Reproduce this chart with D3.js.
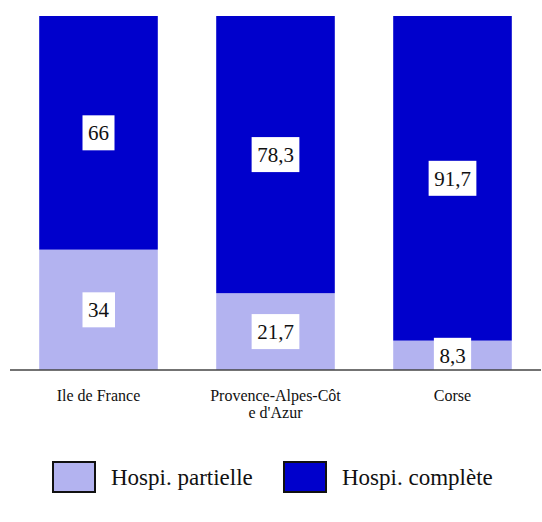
<!DOCTYPE html>
<html>
<head>
<meta charset="utf-8">
<script src="https://cdn.jsdelivr.net/npm/d3@7"></script>
<style>
  body { margin: 0; background: #fff; }
</style>
</head>
<body>
<svg id="chart" width="542" height="522"></svg>
<script>
var regions = ["Ile de France", "Provence-Alpes-Côte d'Azur", "Corse"];
var regionLines = [["Ile de France"], ["Provence-Alpes-Côt", "e d'Azur"], ["Corse"]];
var partielle = [34, 21.7, 8.3];
var complete = [66, 78.3, 91.7];
var seriesNames = ["Hospi. partielle", "Hospi. complète"];
var seriesColors = ["#b3b3f0", "#0000cc"];

var serif = "'Liberation Serif', 'Times New Roman', Times, serif";
var svg = d3.select("#chart");
var plotTop = 16, plotBase = 370;

var x = d3.scaleBand()
    .domain(regions)
    .range([10, 541])
    .paddingInner(0.33)
    .paddingOuter(0.165);

var y = d3.scaleLinear()
    .domain([0, 100])
    .range([plotBase, plotTop]);

var fmt = function(v) { return String(v).replace(".", ","); };

var rows = regions.map(function(r, i) {
  return { region: r, partielle: partielle[i], complete: complete[i] };
});
var stack = d3.stack().keys(["partielle", "complete"])(rows);

var g = svg.append("g");

stack.forEach(function(layer, li) {
  g.selectAll(".bar" + li)
      .data(layer)
    .enter().append("rect")
      .attr("x", function(d) { return x(d.data.region); })
      .attr("y", function(d) { return y(d[1]); })
      .attr("width", x.bandwidth())
      .attr("height", function(d) { return y(d[0]) - y(d[1]); })
      .attr("fill", seriesColors[li]);
});

// value labels in white boxes
stack.forEach(function(layer) {
  layer.forEach(function(d) {
    var cx = x(d.data.region) + x.bandwidth() / 2;
    var cy = (y(d[0]) + y(d[1])) / 2;
    var lab = g.append("g");
    var t = lab.append("text")
        .attr("x", cx)
        .attr("y", cy)
        .attr("dy", "0.35em")
        .attr("text-anchor", "middle")
        .attr("font-family", serif)
        .attr("font-size", 21)
        .attr("fill", "#111")
        .text(fmt(d.data[layer.key]));
    var bb = t.node().getBBox();
    lab.insert("rect", "text")
        .attr("x", bb.x - 5.5)
        .attr("y", cy - 17.5)
        .attr("width", bb.width + 11)
        .attr("height", 35)
        .attr("fill", "#fff");
  });
});

// baseline
svg.append("line")
    .attr("x1", 10).attr("x2", 541)
    .attr("y1", plotBase).attr("y2", plotBase)
    .attr("stroke", "#444")
    .attr("stroke-width", 1.5);

// category labels
regions.forEach(function(r, i) {
  var t = svg.append("text")
      .attr("x", x(r) + x.bandwidth() / 2)
      .attr("y", 401)
      .attr("text-anchor", "middle")
      .attr("font-family", serif)
      .attr("font-size", 16)
      .attr("fill", "#111");
  regionLines[i].forEach(function(line, j) {
    t.append("tspan")
        .attr("x", x(r) + x.bandwidth() / 2)
        .attr("dy", j === 0 ? 0 : 17)
        .text(line);
  });
});

// legend
var legendX = [53, 284];
seriesNames.forEach(function(name, i) {
  var lg = svg.append("g").attr("transform", "translate(" + legendX[i] + ",462)");
  lg.append("rect")
      .attr("width", 42).attr("height", 30)
      .attr("fill", seriesColors[i])
      .attr("stroke", "#111")
      .attr("stroke-width", 2);
  lg.append("text")
      .attr("x", 58).attr("y", 23)
      .attr("font-family", serif)
      .attr("font-size", 23)
      .attr("fill", "#111")
      .text(name);
});
</script>
</body>
</html>
